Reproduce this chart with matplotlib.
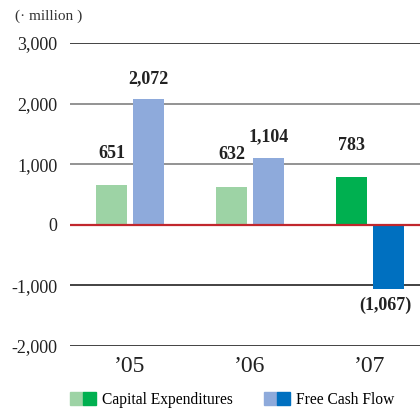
import matplotlib.pyplot as plt
import numpy as np
from matplotlib.patches import Patch
from matplotlib.legend_handler import HandlerTuple

plt.rcParams['font.family'] = ['Liberation Serif', 'DejaVu Serif']

years = ['\u201905', '\u201906', '\u201907']
capex = [651, 632, 783]
fcf = [2072, 1104, -1067]
yticks = [-2000, -1000, 0, 1000, 2000, 3000]

# last year is drawn in the stronger shade
capex_colors = ['#9dd3a5', '#9dd3a5', '#00b050']
fcf_colors = ['#8eaadb', '#8eaadb', '#0070c0']

fig = plt.figure(figsize=(4.2, 4.09), dpi=100)
ax = fig.add_axes([70 / 420, 63 / 409, 350 / 420, 303 / 409])

x = np.arange(len(years))
off = 0.155
w = 0.26
ax.bar(x - off, capex, w, color=capex_colors, zorder=2)
ax.bar(x + off, fcf, w, color=fcf_colors, zorder=2)

# grid lines, each with its own colour
line_colors = {3000: '#222222', 2000: '#808080', 1000: '#808080',
               0: '#c1272d', -1000: '#222222', -2000: '#222222'}
for v, c in line_colors.items():
    ax.axhline(v, color=c, lw=1.6 if v == 0 else 1.2, zorder=3 if v == 0 else 1)

def fmt(v):
    return f'{v:,}' if v >= 0 else f'({-v:,})'

for xi, v in zip(x - off, capex):
    ax.annotate(fmt(v), (xi, v), xytext=(0, 17), textcoords='offset points',
                ha='center', va='bottom', fontsize=13, fontweight='bold', color='#222222')
for xi, v in zip(x + off, fcf):
    if v >= 0:
        ax.annotate(fmt(v), (xi, v), xytext=(0, 9), textcoords='offset points',
                    ha='center', va='bottom', fontsize=13, fontweight='bold', color='#222222')
    else:
        ax.annotate(fmt(v), (xi, v), xytext=(-2, -5), textcoords='offset points',
                    ha='center', va='top', fontsize=13, fontweight='bold', color='#222222')

ax.set_xlim(-0.5, 2 + 50 / 120)
ax.set_ylim(-2000, 3000)
ax.set_yticks(yticks)
ax.set_yticklabels([f'{v:,}' for v in yticks], fontsize=13, color='#222222')
ax.set_xticks(x)
ax.set_xticklabels(years, fontsize=17, color='#222222')
ax.tick_params(axis='y', length=0, pad=9)
ax.tick_params(axis='x', length=0, pad=7)
for s in ax.spines.values():
    s.set_visible(False)

fig.text(15 / 420, 1 - 16 / 409, '(\u00b7 million )', fontsize=11, color='#333333',
         ha='left', va='center')

handles = [(Patch(color=capex_colors[0]), Patch(color=capex_colors[2])),
           (Patch(color=fcf_colors[0]), Patch(color=fcf_colors[2]))]
fig.legend(handles, ['Capital Expenditures', 'Free Cash Flow'],
           handler_map={tuple: HandlerTuple(ndivide=None, pad=0)},
           loc='center', bbox_to_anchor=(232 / 420, 1 - 400 / 409), ncol=2,
           frameon=False, fontsize=11.2, handlelength=1.7, handleheight=0.9,
           handletextpad=0.35, columnspacing=2.0, borderpad=0)

fig.savefig('out.png', dpi=100)
